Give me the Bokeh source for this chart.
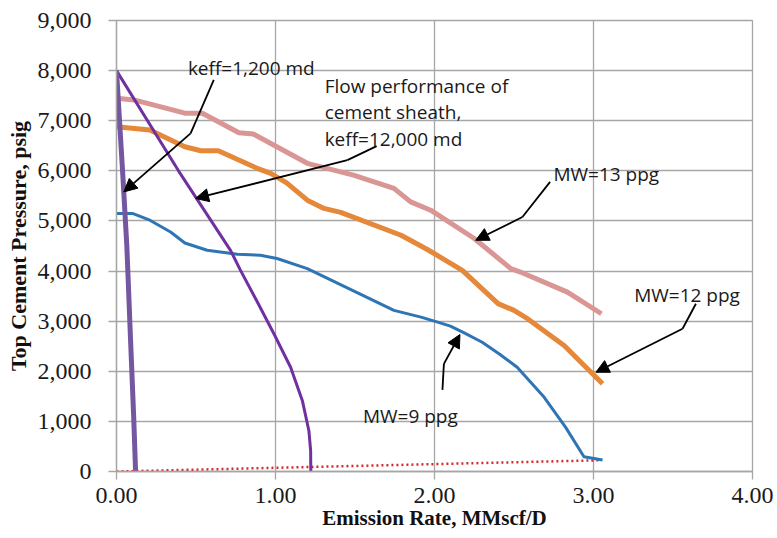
from bokeh.plotting import figure
from bokeh.models import Label, Arrow, NormalHead, NumeralTickFormatter, FixedTicker
from bokeh.embed import file_html
from bokeh.resources import INLINE

# ---- data ----
mw13_x = [0.00, 0.11, 0.43, 0.54, 0.77, 0.86, 1.20, 1.49, 1.745, 1.85, 1.976, 2.25, 2.48, 2.54, 2.836, 3.05]
mw13_y = [7450, 7415, 7150, 7150, 6760, 6735, 6150, 5915, 5650, 5380, 5214, 4650, 4048, 3980, 3580, 3148]

mw12_x = [0.00, 0.21, 0.43, 0.53, 0.64, 0.885, 0.97, 1.07, 1.20, 1.305, 1.41, 1.79, 1.955, 2.175, 2.40, 2.50, 2.585, 2.815, 3.057]
mw12_y = [6880, 6815, 6480, 6400, 6400, 6050, 5950, 5760, 5415, 5250, 5170, 4715, 4430, 4015, 3350, 3215, 3050, 2515, 1750]

mw9_x = [0.00, 0.10, 0.21, 0.34, 0.43, 0.57, 0.76, 0.905, 1.01, 1.20, 1.745, 1.915, 2.02, 2.10, 2.19, 2.30, 2.41, 2.52, 2.69, 2.825, 2.94, 3.057]
mw9_y = [5150, 5150, 5015, 4780, 4560, 4415, 4335, 4315, 4250, 4050, 3215, 3080, 2980, 2900, 2760, 2580, 2340, 2080, 1480, 880, 295, 230]

keff12000_x = [0.00, 0.39, 0.717, 0.78, 0.881, 0.99, 1.095, 1.169, 1.21, 1.221, 1.222]
keff12000_y = [8000, 6000, 4414, 4014, 3414, 2748, 2080, 1414, 814, 414, 0]

keff1200_x = [0.00, 0.04, 0.065, 0.09, 0.108, 0.12]
keff1200_y = [8000, 5900, 4500, 2500, 1100, 0]

cement_x = [0.00, 3.05]
cement_y = [0, 225]

y_ticks = [0, 1000, 2000, 3000, 4000, 5000, 6000, 7000, 8000, 9000]
x_ticks = [0, 1, 2, 3, 4]

# annotation texts and positions (data units, alphabetic baseline)
labels_text = ["keff=1,200 md", "Flow performance of", "cement sheath,", "keff=12,000 md",
               "MW=13 ppg", "MW=12 ppg", "MW=9 ppg"]
labels_x = [0.449, 1.309, 1.309, 1.309, 2.748, 3.256, 1.550]
labels_y = [8054, 7694, 7168, 6628, 5934, 3528, 1114]

# arrow callouts: start -> kink -> tip
arr_x0 = [0.612, 1.636, 2.727, 3.644, 2.050]
arr_y0 = [7814, 6494, 5780, 3348, 1628]
arr_xk = [0.466, 1.452, 2.553, 3.560, 2.059]
arr_yk = [6748, 6214, 5080, 2848, 2148]
arr_xt = [0.046, 0.497, 2.259, 3.015, 2.160]
arr_yt = [5580, 5448, 4614, 1980, 2734]

GRID = "#A6A6A6"

p = figure(width=777, height=538, x_range=(0, 4), y_range=(0, 9000),
           output_backend="svg", toolbar_location=None,
           min_border_left=116, min_border_right=25, min_border_top=20, min_border_bottom=67)

p.background_fill_color = "white"
p.outline_line_color = GRID
p.outline_line_width = 1.3

p.xaxis.ticker = FixedTicker(ticks=x_ticks)
p.yaxis.ticker = FixedTicker(ticks=y_ticks)
p.xaxis.formatter = NumeralTickFormatter(format="0.00")
p.yaxis.formatter = NumeralTickFormatter(format="0,0")

for ax in (p.xaxis[0], p.yaxis[0]):
    ax.axis_line_color = GRID
    ax.axis_line_width = 1.3
    ax.major_tick_line_color = GRID
    ax.major_tick_line_width = 1.3
    ax.major_tick_out = 8
    ax.major_tick_in = 0
    ax.minor_tick_line_color = None
    ax.major_label_text_font = "Liberation Serif"
    ax.major_label_text_font_size = "24px"
    ax.major_label_text_color = "#1a1a1a"
    ax.axis_label_text_font = "Liberation Serif"
    ax.axis_label_text_font_style = "bold"
    ax.axis_label_text_color = "#111111"

p.xaxis.axis_label = "Emission Rate, MMscf/D"
p.yaxis.axis_label = "Top Cement Pressure, psig"
p.xaxis.axis_label_text_font_size = "21px"
p.yaxis.axis_label_text_font_size = "22px"
p.xaxis.major_label_standoff = 8
p.xaxis.axis_label_standoff = 0
p.yaxis.major_label_standoff = 17
p.yaxis.axis_label_standoff = 4

p.xgrid.ticker = FixedTicker(ticks=x_ticks)
p.ygrid.ticker = FixedTicker(ticks=y_ticks)
p.grid.grid_line_color = GRID
p.grid.grid_line_width = 1.3

# series
p.line(cement_x, cement_y, line_color="#D42A2A", line_width=2.5, line_dash="2 3")
p.line(mw13_x, mw13_y, line_color="#D99694", line_width=5, line_join="round")
p.line(mw12_x, mw12_y, line_color="#E5883A", line_width=5, line_join="round")
p.line(mw9_x, mw9_y, line_color="#2E75B6", line_width=3, line_join="round")
p.line(keff12000_x, keff12000_y, line_color="#7030A0", line_width=3, line_join="round")
p.line(keff1200_x, keff1200_y, line_color="#7457A0", line_width=5, line_join="round")

# callout arrows
p.segment(arr_x0, arr_y0, arr_xk, arr_yk, line_color="black", line_width=1.8)
for xk, yk, xt, yt in zip(arr_xk, arr_yk, arr_xt, arr_yt):
    p.add_layout(Arrow(x_start=xk, y_start=yk, x_end=xt, y_end=yt,
                       line_color="black", line_width=1.8,
                       end=NormalHead(size=13, fill_color="black", line_color="black", line_width=1)))

for t, lx, ly in zip(labels_text, labels_x, labels_y):
    p.add_layout(Label(x=lx, y=ly, text=t, text_font="Open Sans", text_font_size="19px",
                       text_color="#1a1a1a", text_baseline="alphabetic", text_align="left"))

open("out.html", "w").write(file_html(p, INLINE))
